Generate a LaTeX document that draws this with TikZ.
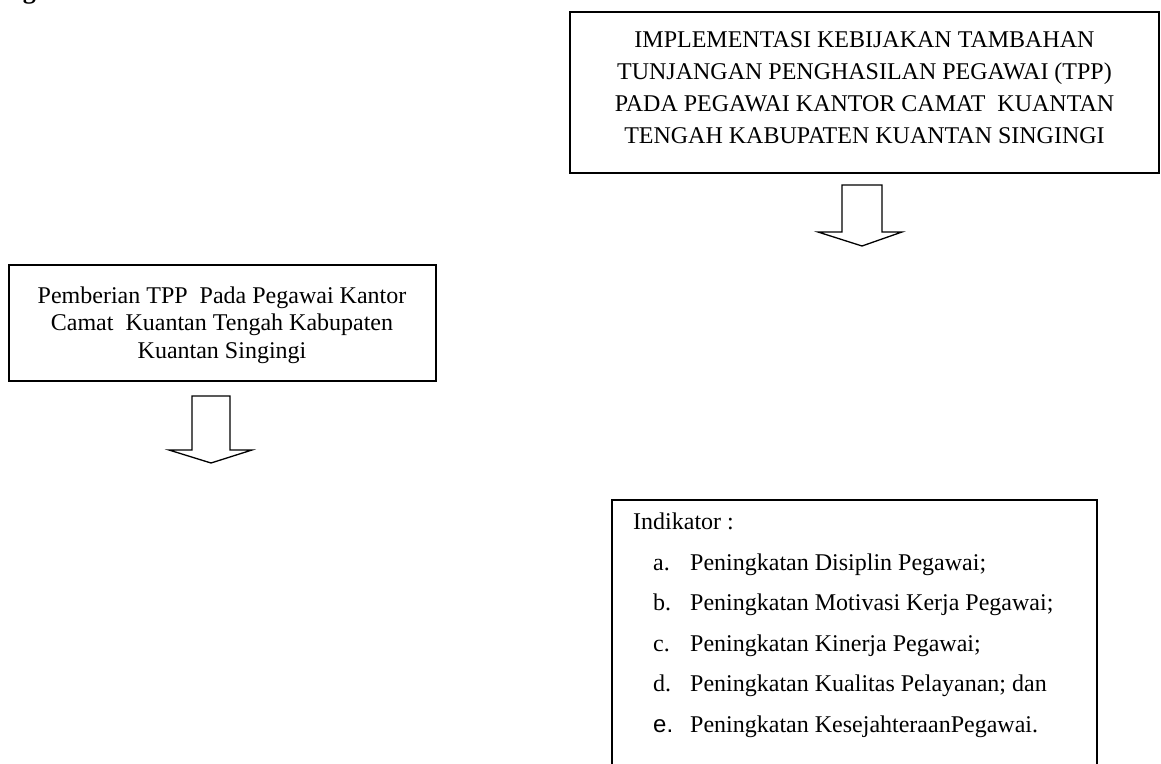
\documentclass[tikz,border=0pt]{standalone}
\usepackage{fontspec}
\setmainfont{Liberation Serif}
\newfontfamily\arialfont{Liberation Sans}
\tikzset{
  boxstyle/.style={draw=black, line width=1.6pt, inner sep=0pt},
  blockarrow/.style={draw=black, line width=1.3pt, line join=miter, fill=white},
  txt/.style={inner sep=0pt, font=\fontsize{24}{32}\selectfont},
}
\newcommand{\itm}[2]{\hspace*{20pt}\makebox[37pt][l]{#1}#2}
\begin{document}
\begin{tikzpicture}[x=1pt, y=-1pt]
\useasboundingbox (0,0) rectangle (1161,763);
\clip (0,0) rectangle (1161,763);
\fill[white] (0,0) rectangle (1161,763);
% cut-off heading letter
\node[inner sep=0pt, anchor=base, font=\fontsize{26}{30}\selectfont\bfseries] (hd) at (29.5,-1.5) {g};
% top box
\node[boxstyle, minimum width=589pt, minimum height=161pt] (top) at (864.5,92.5) {};
\node[txt, align=center, font=\fontsize{24}{32}\selectfont] (toptext) at (864.5,88) {IMPLEMENTASI KEBIJAKAN TAMBAHAN\\TUNJANGAN PENGHASILAN PEGAWAI (TPP)\\PADA PEGAWAI KANTOR CAMAT\ \ KUANTAN\\TENGAH KABUPATEN KUANTAN SINGINGI};
% left box
\node[boxstyle, minimum width=427pt, minimum height=116pt] (left) at (222.5,323) {};
\node[txt, align=center, font=\fontsize{24}{27.5}\selectfont] (lefttext) at (222,325) {Pemberian TPP\ \ Pada Pegawai Kantor\\Camat\ \ Kuantan Tengah Kabupaten\\Kuantan Singingi};
% indicator box (bottom cut off)
\node[boxstyle, minimum width=485pt, minimum height=300pt] (ind) at (854.5,650) {};
\node[txt, align=left, anchor=north west, font=\fontsize{24}{40.5}\selectfont] (indtext) at (633,513) {Indikator :\\
\itm{a.}{Peningkatan Disiplin Pegawai;}\\
\itm{b.}{Peningkatan Motivasi Kerja Pegawai;}\\
\itm{c.}{Peningkatan Kinerja Pegawai;}\\
\itm{d.}{Peningkatan Kualitas Pelayanan; dan}\\
\itm{{\arialfont e.}}{Peningkatan KesejahteraanPegawai.}};
% block arrows
\coordinate (a1) at (862,185);
\draw[blockarrow] (a1) ++(-20,0) -- ++(0,47) -- ++(-24,0) -- (862,246) -- (902,232) -- ++(-20,0) -- ++(0,-47) -- cycle;
\coordinate (a2) at (211,396);
\draw[blockarrow] (a2) ++(-19,0) -- ++(0,54) -- ++(-23,0) -- (211,463) -- (252,450) -- ++(-22,0) -- ++(0,-54) -- cycle;
\end{tikzpicture}
\end{document}
